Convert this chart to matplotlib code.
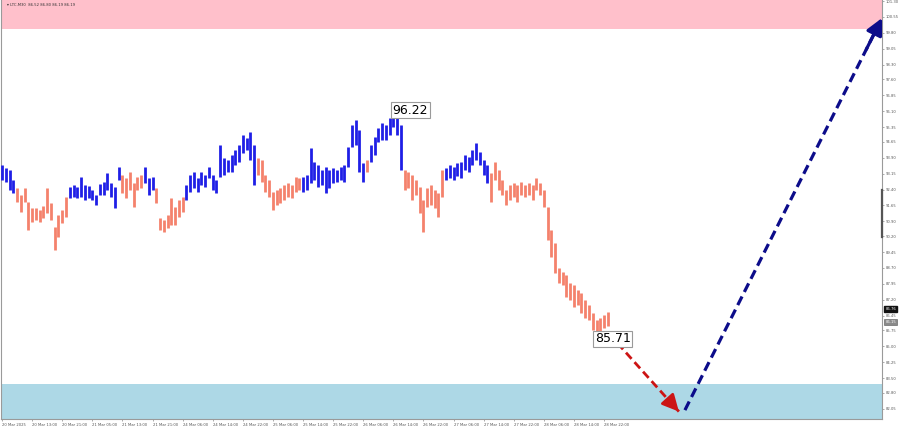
import matplotlib
matplotlib.use("Agg")
import matplotlib.pyplot as plt
import numpy as np

# ---- data (hourly bars, LTC M30 chart) ----
highs = [93.56, 93.42, 93.33, 92.85, 92.48, 92.15, 92.48, 91.82, 91.53, 91.53,
         91.44, 91.63, 92.48, 91.77, 90.63, 91.20, 91.44, 92.05, 92.52, 92.62,
         92.52, 92.99, 92.62, 92.57, 92.38, 92.15, 92.67, 92.76, 93.18, 92.71,
         92.52, 93.47, 93.09, 92.95, 93.23, 92.71, 92.99, 93.09, 93.47, 92.95,
         92.99, 92.48, 91.06, 90.97, 91.20, 92.00, 91.58, 91.91, 92.05, 92.62,
         93.09, 93.23, 92.95, 93.23, 93.09, 93.47, 93.09, 92.85, 94.51, 93.89,
         93.80, 94.03, 94.27, 94.51, 94.98, 94.84, 95.12, 94.51, 93.89, 93.80,
         93.09, 92.85, 92.29, 92.38, 92.48, 92.62, 92.71, 92.62, 92.99, 92.95,
         92.99, 93.09, 94.36, 93.70, 93.56, 93.33, 93.47, 93.33, 93.42, 93.33,
         93.47, 93.56, 94.41, 95.45, 95.69, 95.21, 93.66, 93.80, 94.51, 94.88,
         95.31, 95.54, 95.45, 95.78, 96.22, 95.92, 95.45, 93.33, 93.23, 93.09,
         92.85, 92.52, 91.91, 92.48, 92.62, 92.38, 92.24, 93.33, 93.42, 93.56,
         93.47, 93.66, 93.70, 94.03, 93.94, 94.27, 94.60, 94.18, 93.80, 93.56,
         93.18, 93.70, 93.33, 92.85, 92.38, 92.62, 92.71, 92.62, 92.76, 92.62,
         92.71, 92.62, 92.95, 92.71, 92.38, 91.58, 90.49, 89.88, 88.70, 88.51,
         88.37, 87.99, 87.90, 87.66, 87.52, 87.19, 86.95, 86.58, 86.25, 86.34,
         86.48, 86.62]
lows = [92.85, 92.76, 92.38, 92.24, 91.82, 91.34, 91.82, 90.49, 90.87, 90.97,
        90.87, 91.06, 91.30, 90.97, 89.55, 90.16, 90.82, 91.11, 92.00, 92.05,
        92.00, 92.05, 91.91, 92.00, 91.91, 91.67, 92.15, 92.15, 92.38, 92.05,
        91.53, 92.85, 92.24, 92.00, 92.38, 91.58, 92.38, 92.48, 92.71, 92.15,
        92.38, 91.77, 90.49, 90.40, 90.59, 90.73, 90.73, 91.11, 91.34, 91.91,
        92.29, 92.48, 92.29, 92.62, 92.52, 92.95, 92.38, 92.24, 92.99, 93.09,
        93.23, 93.23, 93.56, 93.70, 94.13, 94.27, 93.80, 92.62, 93.09, 92.76,
        92.29, 92.05, 91.44, 91.67, 91.77, 91.91, 92.05, 92.00, 92.29, 92.38,
        92.29, 92.38, 92.71, 92.85, 92.52, 92.62, 92.24, 92.48, 92.71, 92.76,
        92.85, 92.76, 93.47, 94.41, 94.51, 93.23, 92.76, 93.23, 93.70, 94.03,
        94.65, 94.74, 94.74, 94.98, 95.36, 94.98, 93.33, 92.38, 92.48, 91.91,
        92.15, 91.30, 90.40, 91.58, 91.67, 91.53, 91.11, 92.05, 92.85, 92.95,
        92.85, 93.04, 92.95, 93.33, 93.23, 93.56, 93.80, 93.56, 93.09, 92.71,
        91.82, 92.85, 92.38, 92.15, 91.67, 91.91, 92.05, 91.82, 92.15, 92.05,
        92.15, 91.91, 92.38, 92.15, 91.58, 90.02, 89.22, 88.46, 87.99, 87.90,
        87.33, 87.19, 86.86, 86.95, 86.58, 86.34, 86.25, 85.77, 85.71, 85.74,
        85.87, 85.96]

# wave segments: start indices of alternating up (blue) / down (salmon) waves
wave_breaks = [0, 4, 18, 32, 38, 41, 49, 68, 80, 97, 98, 107, 118, 130, 162]

x_tick_labels = ["20 Mar 2025", "20 Mar 13:00", "20 Mar 21:00", "21 Mar 05:00",
                 "21 Mar 13:00", "21 Mar 21:00", "24 Mar 06:00", "24 Mar 14:00",
                 "24 Mar 22:00", "25 Mar 06:00", "25 Mar 14:00", "25 Mar 22:00",
                 "26 Mar 06:00", "26 Mar 14:00", "26 Mar 22:00", "27 Mar 06:00",
                 "27 Mar 14:00", "27 Mar 22:00", "28 Mar 06:00", "28 Mar 14:00",
                 "28 Mar 22:00"]
y_tick_values = [101.30, 100.55, 99.80, 99.05, 98.30, 97.60, 96.85, 96.10, 95.35,
                 94.65, 93.90, 93.15, 92.40, 91.65, 90.90, 90.20, 89.45, 88.70,
                 87.95, 87.20, 86.45, 85.75, 85.00, 84.25, 83.50, 82.80, 82.05]

resistance_zone = (100.0, 102.0)
support_zone = (81.0, 83.2)

peak_idx, peak_val = 104, 96.22
low_idx, low_val = 158, 85.71

# forecast path (bar index, price)
down_x = [161.3, 179.9]
down_y = [85.60, 81.92]
up_x = [181.5, 233.9]
up_y = [81.99, 100.50]

bid_price = 86.76
ask_price = 86.15
header = "\u25BE LTC,M30  86.52 86.80 86.19 86.19"

BLUE = "#1f1fe6"
SALMON = "#f4826c"

# ---- figure ----
fig = plt.figure(figsize=(9, 4.3), dpi=100)
ax = fig.add_axes([0.001, 1 - 419 / 430, 881 / 900, 419 / 430])
ax.set_facecolor("white")

ax.axhspan(*resistance_zone, color="#ffc0cb", zorder=0, lw=0)
ax.axhspan(*support_zone, color="#add8e6", zorder=0, lw=0)

idx = np.arange(len(highs))
for s in range(len(wave_breaks) - 1):
    a, b = wave_breaks[s], wave_breaks[s + 1]
    col = BLUE if s % 2 == 0 else SALMON
    ax.vlines(idx[a:b], np.array(lows[a:b]), np.array(highs[a:b]),
              color=col, lw=2.0, zorder=3)


def dashed_arrow(xs, ys, color, lw, head):
    ax.plot(xs, ys, linestyle=(0, (3, 1.6)), color=color, lw=lw, zorder=5,
            solid_capstyle="butt", dash_capstyle="butt")
    fx = xs[1] - (xs[1] - xs[0]) * 0.08
    fy = ys[1] - (ys[1] - ys[0]) * 0.08
    ax.annotate("", xy=(xs[1], ys[1]), xytext=(fx, fy),
                arrowprops=dict(arrowstyle=f"-|>,head_length={head},head_width={head/2}",
                                color=color, lw=lw, shrinkA=0, shrinkB=0),
                zorder=6)


dashed_arrow(down_x, down_y, "#cc1414", 2.0, 1.0)
dashed_arrow(up_x, up_y, "#0c0c8a", 2.3, 1.0)

box = dict(boxstyle="square,pad=0.12", fc="white", ec="#9a9a9a", lw=0.8)
ax.text(peak_idx - 0.2, peak_val - 0.08, f"{peak_val:.2f}", ha="left", va="center",
        fontsize=9, color="black", bbox=box, zorder=7)
ax.text(low_idx - 0.4, low_val - 0.05, f"{low_val:.2f}", ha="left", va="top",
        fontsize=9, color="black", bbox=box, zorder=7)

step = 3.7625
ax.set_xlim(-0.3, -0.3 + 881 / step)
ax.set_ylim(81.57, 101.35)

ax.set_xticks(np.arange(0, 8 * len(x_tick_labels), 8))
ax.set_xticklabels(x_tick_labels, fontsize=2.7, color="#555555", ha="left")
ax.yaxis.tick_right()
ax.set_yticks(y_tick_values)
ax.set_yticklabels([f"{v:.2f}" for v in y_tick_values], fontsize=2.7,
                   color="#555555")
ax.tick_params(axis="both", length=1.5, width=0.5, color="#888888", pad=1.2)

ax.spines["top"].set_visible(False)
for side in ("left", "right", "bottom"):
    ax.spines[side].set_color("#9a9a9a")
    ax.spines[side].set_linewidth(0.8)

ytr = ax.get_yaxis_transform()
ax.text(1.004, bid_price, f"{bid_price:.2f}", transform=ytr, fontsize=2.7,
        color="white", ha="left", va="center",
        bbox=dict(boxstyle="square,pad=0.25", fc="#111111", ec="#111111"))
ax.text(1.004, ask_price, f"{ask_price:.2f}", transform=ytr, fontsize=2.7,
        color="white", ha="left", va="center",
        bbox=dict(boxstyle="square,pad=0.25", fc="#8a8a8a", ec="#555555", lw=0.4))
ax.plot([1.0, 1.0], [90.16, 92.38], transform=ytr, color="#555555", lw=1.6,
        clip_on=False, zorder=8)

fig.text(0.008, 0.993, header, fontsize=2.7, color="#333333", va="top",
         ha="left")

fig.savefig("out.png", dpi=100, facecolor="white")
